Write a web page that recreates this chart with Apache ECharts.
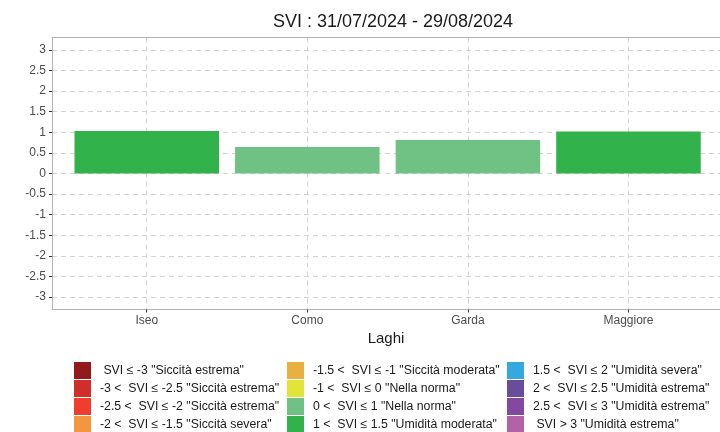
<!DOCTYPE html>
<html>
<head>
<meta charset="utf-8">
<script src="https://cdn.jsdelivr.net/npm/echarts@6/dist/echarts.min.js"></script>
<style>
    html, body { margin: 0; padding: 0; background: #fff; }
    #chart { width: 720px; height: 432px; }
</style>
</head>
<body>
<div id="chart"></div>
<script>
    // dati
    var lakes = ['Iseo', 'Como', 'Garda', 'Maggiore'];
    var sviValues = [1.03, 0.645, 0.81, 1.02];
    var yTicks = [-3, -2.5, -2, -1.5, -1, -0.5, 0, 0.5, 1, 1.5, 2, 2.5, 3];

    // classi SVI
    var classLabels = [
        ' SVI ≤ -3 "Siccità estrema"',
        '-3 <  SVI ≤ -2.5 "Siccità estrema"',
        '-2.5 <  SVI ≤ -2 "Siccità estrema"',
        '-2 <  SVI ≤ -1.5 "Siccità severa"',
        '-1.5 <  SVI ≤ -1 "Siccità moderata"',
        '-1 <  SVI ≤ 0 "Nella norma"',
        '0 <  SVI ≤ 1 "Nella norma"',
        '1 <  SVI ≤ 1.5 "Umidità moderata"',
        '1.5 <  SVI ≤ 2 "Umidità severa"',
        '2 <  SVI ≤ 2.5 "Umidità estrema"',
        '2.5 <  SVI ≤ 3 "Umidità estrema"',
        ' SVI > 3 "Umidità estrema"'
    ];
    var classUpper = [-3, -2.5, -2, -1.5, -1, 0, 1, 1.5, 2, 2.5, 3, Infinity];
    var classColors = ['#921a1d', '#cf2e2a', '#ef3e2c', '#f4953f', '#e8b040', '#e3e43a',
                       '#6fc283', '#31b24a', '#35a8e0', '#6a4c9c', '#8348a0', '#b462a8'];

    var FONT = 'Liberation Sans, Arial, sans-serif';
    var FRAME = '#b3b3b3';

    function classOf(v) {
        for (var i = 0; i < classUpper.length; i++) {
            if (v <= classUpper[i]) return i;
        }
        return classUpper.length - 1;
    }

    var series = classLabels.map(function (name, c) {
        var data = [];
        sviValues.forEach(function (v, i) {
            if (classOf(v) === c) data.push([i + 1, v]);
        });
        return {
            name: name,
            type: 'bar',
            barWidth: 144.5,
            barGap: '-100%',
            itemStyle: { color: classColors[c] },
            data: data
        };
    });

    function legendCol(left, from) {
        return {
            orient: 'vertical',
            left: left,
            top: 362,
            height: 80,
            padding: 0,
            itemWidth: 17,
            itemHeight: 17,
            itemGap: 1,
            icon: 'rect',
            selectedMode: false,
            textStyle: { fontFamily: FONT, fontSize: 12.3, color: '#1a1a1a', padding: [0, 0, 0, 4] },
            data: classLabels.slice(from, from + 4)
        };
    }

    var dashed = { show: true, lineStyle: { color: '#d4d4d4', type: [5, 4], width: 1 } };

    var chart = echarts.init(document.getElementById('chart'));
    var option = {
        backgroundColor: '#fff',
        animation: false,
        title: {
            text: 'SVI : 31/07/2024 - 29/08/2024',
            left: 388,
            textAlign: 'center',
            top: 8,
            textStyle: { fontFamily: FONT, fontSize: 18, fontWeight: 'normal', color: '#1a1a1a' }
        },
        legend: [legendCol(74, 0), legendCol(287, 4), legendCol(507, 8)],
        grid: {
            left: 52,
            right: 0,
            top: 37.5,
            bottom: 122.5
        },
        xAxis: [{
            type: 'value',
            min: 0.41,
            max: 4.57,
            name: 'Laghi',
            nameLocation: 'middle',
            nameGap: 18,
            nameTextStyle: { fontFamily: FONT, fontSize: 15, color: '#1a1a1a' },
            axisLine: { show: true, onZero: false, lineStyle: { color: FRAME, width: 1 } },
            axisTick: { show: true, length: 3, customValues: [1, 2, 3, 4], lineStyle: { color: '#333' } },
            axisLabel: {
                customValues: [1, 2, 3, 4],
                margin: 5,
                fontFamily: FONT, fontSize: 12, color: '#4d4d4d',
                formatter: function (v) { return lakes[Math.round(v) - 1]; }
            },
            splitLine: dashed
        }, {
            // bordo superiore del pannello
            type: 'value',
            position: 'top',
            min: 0.41,
            max: 4.57,
            axisLine: { show: true, onZero: false, lineStyle: { color: FRAME, width: 1 } },
            axisTick: { show: false },
            axisLabel: { show: false },
            splitLine: { show: false }
        }],
        yAxis: {
            type: 'value',
            min: -3.3,
            max: 3.3,
            axisLine: { show: true, onZero: false, lineStyle: { color: FRAME, width: 1 } },
            axisTick: { show: true, length: 3, customValues: yTicks, lineStyle: { color: '#333' } },
            axisLabel: { customValues: yTicks, margin: 6, fontFamily: FONT, fontSize: 12, color: '#4d4d4d' },
            splitLine: dashed
        },
        series: series
    };
    chart.setOption(option);
</script>
</body>
</html>
